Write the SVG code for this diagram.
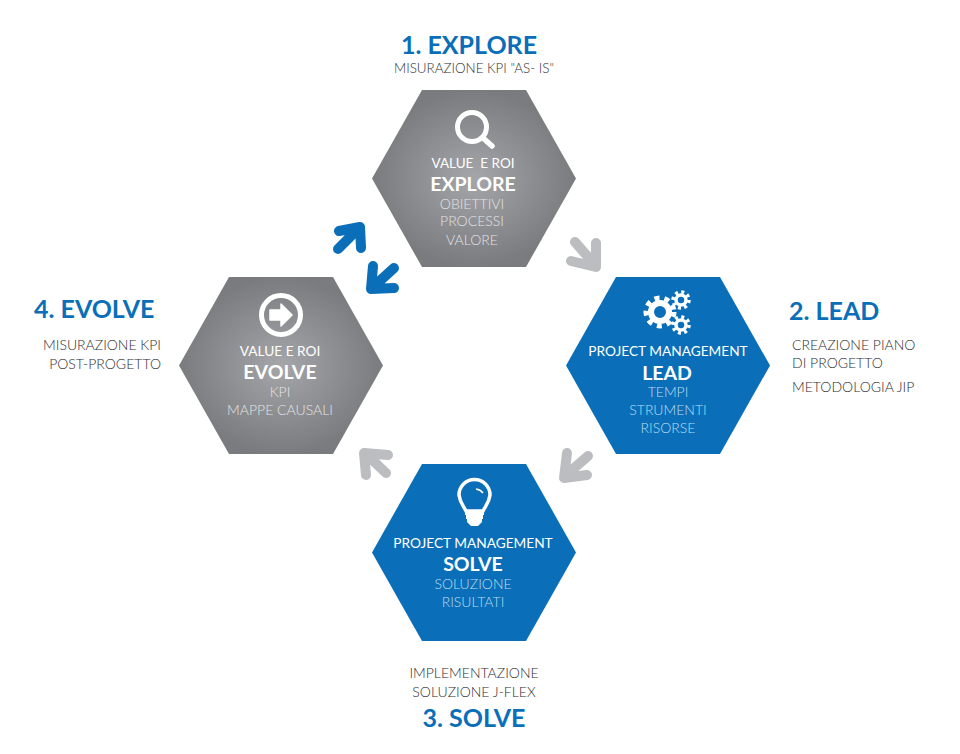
<svg xmlns="http://www.w3.org/2000/svg" width="960" height="754" viewBox="0 0 960 754">
<style>
text{font-family:Lato,"Carlito","Open Sans",sans-serif;text-anchor:middle}
.h{font-size:25px;font-weight:700;fill:#0a6fb8}
.s{font-size:14px;font-weight:300;fill:#2e2e30}
.r{text-anchor:end}.l{text-anchor:start}
.t{font-size:13.700px;font-weight:400;fill:#fff}
.b{font-size:19.500px;font-weight:700;fill:#fff}
.g{font-size:14px;font-weight:300;fill:#e4e4e6}
.c{font-size:14px;font-weight:300;fill:#bcdcf2}
.ar{fill:none;stroke-width:10;stroke-linecap:round;stroke-linejoin:round}
.ic{fill:none;stroke:#fff}
</style>
<defs>
<radialGradient id="gr"><stop offset="0" stop-color="#a5a6a9"/><stop offset="1" stop-color="#7a7b7e"/></radialGradient>
<polygon id="hex" points="-102,0 -52,-88.500 52,-88.500 102,0 52,88.500 -52,88.500"/>
</defs>
<rect width="960" height="754" fill="#fff"/>
<g id="connectors">
<g class="ar" stroke="#bcbdc0">
<path d="M575 242L596 266M571 261L596 267L596 243"/>
<path d="M588 456L565 476M567 453L564 478L587 475"/>
<path d="M386 473L365 453M388 455L364 453L366 475"/>
</g>
<g class="ar" stroke="#0a6fb8">
<path d="M338 249L360 227M339 231L360 227L361 248"/>
<path d="M394 268L372 288M373 266L371 289L394 288"/>
</g>
</g>
<g id="explore">
<use href="#hex" x="474" y="178.500" fill="url(#gr)"/>
<circle class="ic" cx="472" cy="127" r="14.500" stroke-width="5"/>
<path class="ic" d="M483 138L492 146" stroke-width="5.500" stroke-linecap="round"/>
<text class="t" x="473" y="168" style="font-size:13.500px">VALUE&#160; E ROI</text>
<text class="b" x="473" y="191">EXPLORE</text>
<text class="g" x="472" y="209">OBIETTIVI</text>
<text class="g" x="472" y="226">PROCESSI</text>
<text class="g" x="472" y="245">VALORE</text>
<text class="h" x="469" y="54">1. EXPLORE</text>
<text class="s" x="474" y="73" style="font-size:13.400px">MISURAZIONE KPI "AS- IS"</text>
</g>
<g id="lead">
<use href="#hex" x="668" y="365.500" fill="#0a6fb8"/>
<g class="ic">
<circle cx="660" cy="312" r="9" stroke-width="6"/>
<circle cx="660" cy="312" r="14" stroke-width="5" stroke-dasharray="5 5"/>
<circle cx="681" cy="300" r="5" stroke-width="3.500"/>
<circle cx="681" cy="300" r="8" stroke-width="3.500" stroke-dasharray="3 3.280"/>
<circle cx="681" cy="325" r="5" stroke-width="3.500"/>
<circle cx="681" cy="325" r="8" stroke-width="3.500" stroke-dasharray="3 3.280"/>
</g>
<text class="t" x="668" y="356">PROJECT MANAGEMENT</text>
<text class="b" x="667" y="380">LEAD</text>
<text class="c" x="668" y="397">TEMPI</text>
<text class="c" x="668" y="415">STRUMENTI</text>
<text class="c" x="668" y="433">RISORSE</text>
<text class="h l" x="789" y="320">2. LEAD</text>
<text class="s l" x="792" y="350">CREAZIONE PIANO</text>
<text class="s l" x="792" y="368">DI PROGETTO</text>
<text class="s l" x="792" y="392">METODOLOGIA JIP</text>
</g>
<g id="solve">
<use href="#hex" x="474" y="552.500" fill="#0a6fb8"/>
<g class="ic">
<path d="M466 511C463 505 460 503 459 495A15 15 0 1 1 490 495C489 503 486 505 483 511Z" stroke-width="3.500"/>
<path d="M476 489A10 10 0 0 1 483 493" stroke-width="1.500"/>
</g>
<path d="M465 511H484V515H483V519H482V522L478 526H471L467 522V519H466V515H465Z" fill="#fff"/>
<text class="t" x="473" y="548">PROJECT MANAGEMENT</text>
<text class="b" x="473" y="571">SOLVE</text>
<text class="c" x="473" y="589">SOLUZIONE</text>
<text class="c" x="473" y="607">RISULTATI</text>
<text class="s" x="474" y="678">IMPLEMENTAZIONE</text>
<text class="s" x="474" y="697">SOLUZIONE J-FLEX</text>
<text class="h" x="474" y="727">3. SOLVE</text>
</g>
<g id="evolve">
<use href="#hex" x="281" y="365.500" fill="url(#gr)"/>
<circle class="ic" cx="281" cy="315" r="19.500" stroke-width="5"/>
<path d="M270 310H281V304L292 315L281 326V320H270Z" fill="#fff" stroke="#fff" stroke-width="1.500" stroke-linejoin="round"/>
<text class="t" x="280" y="356">VALUE E ROI</text>
<text class="b" x="280" y="379">EVOLVE</text>
<text class="g" x="280" y="397">KPI</text>
<text class="g" x="280" y="415">MAPPE CAUSALI</text>
<text class="h l" x="34" y="318">4. EVOLVE</text>
<text class="s r" x="161" y="350">MISURAZIONE KPI</text>
<text class="s r" x="161" y="369">POST-PROGETTO</text>
</g>
</svg>
